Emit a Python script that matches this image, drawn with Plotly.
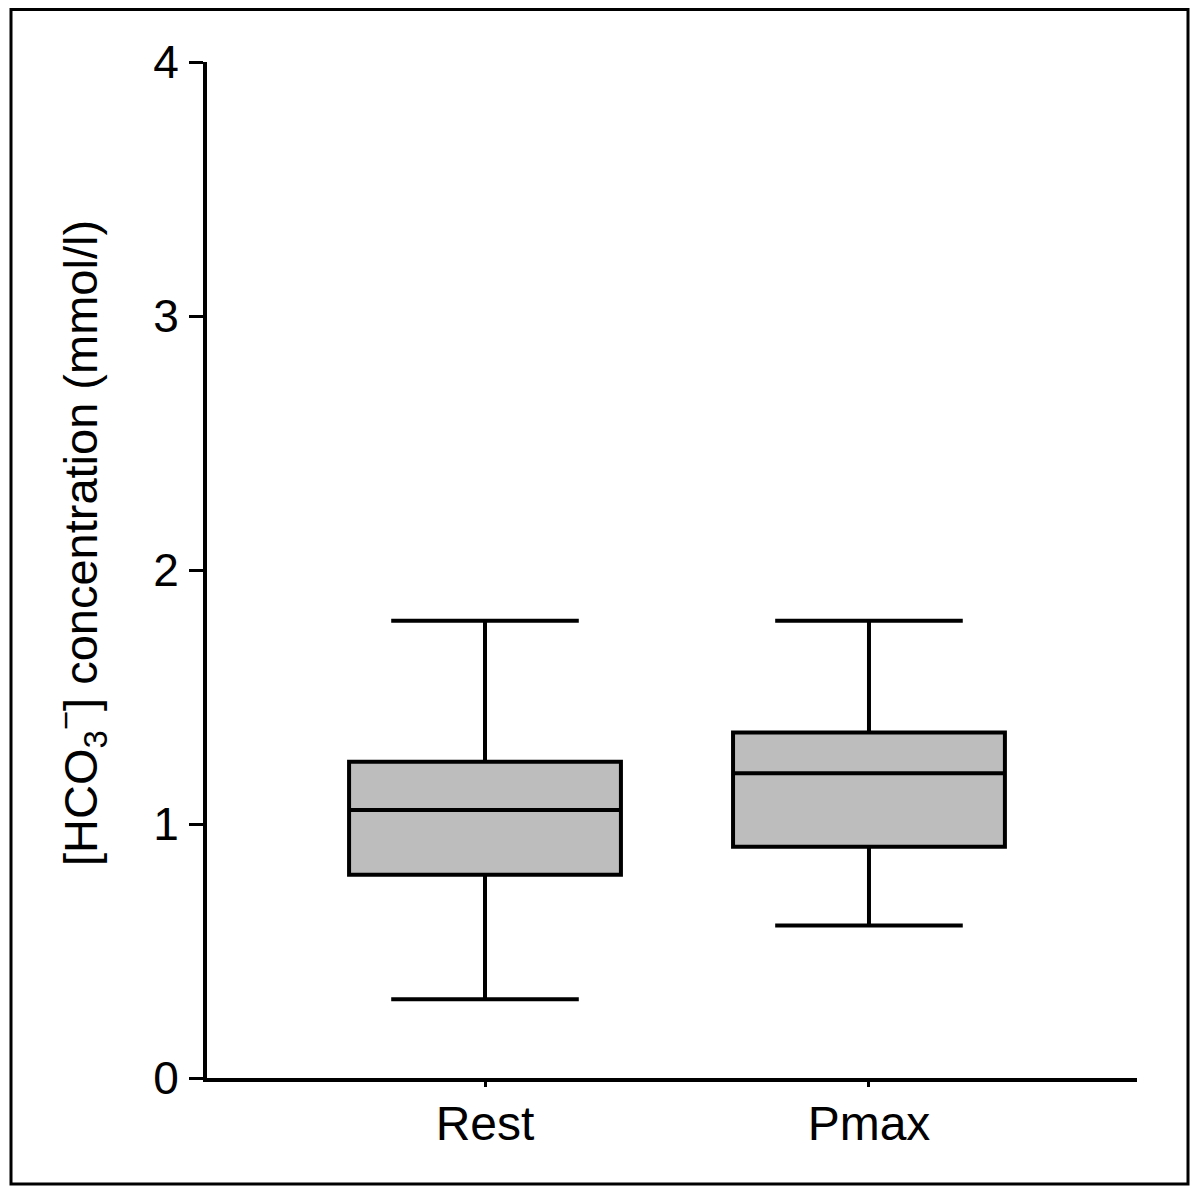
import plotly.graph_objects as go

categories = ["Rest", "Pmax"]
lower_whisker = [0.31, 0.60]
q1_values = [0.80, 0.91]
median_values = [1.055, 1.20]
q3_values = [1.245, 1.36]
upper_whisker = [1.80, 1.80]
y_tick_values = [0, 1, 2, 3, 4]
y_tick_labels = ["0", "1", "2", "3", "4"]
y_title = "[HCO<sub>3</sub><sup>−</sup>] concentration (mmol/l)"

# page body margin offsets the figure by 8px; work in page coordinates
OFF = 8
W, H = 1200 - OFF, 1190 - OFF
L, R, T, B = 207 - OFF, 1137 - OFF, 62 - OFF, 1078 - OFF
pw, ph = R - L, B - T

def px_x(p):
    return (p - OFF - L) / pw

def px_y(p):
    return (B - (p - OFF)) / ph

fig = go.Figure()
fig.add_trace(go.Box(
    x=categories,
    q1=q1_values,
    median=median_values,
    q3=q3_values,
    lowerfence=lower_whisker,
    upperfence=upper_whisker,
    fillcolor="#bdbdbd",
    line=dict(color="black", width=4),
    whiskerwidth=0.69,
    width=0.708,
    boxpoints=False,
    showlegend=False,
    hoverinfo="skip",
))

font_family = "Liberation Sans, Arial, sans-serif"

fig.update_layout(
    width=W, height=H,
    margin=dict(l=L, r=W - R, t=T, b=H - B, pad=0),
    paper_bgcolor="white",
    plot_bgcolor="white",
    font=dict(family=font_family, color="black", size=46),
    xaxis=dict(
        type="category",
        range=[-0.724, 1.698],
        showline=True, linecolor="black", linewidth=4,
        ticks="outside", ticklen=5, tickwidth=3, tickcolor="black",
        showgrid=False, zeroline=False,
        tickfont=dict(size=48, family=font_family, color="black"),
        ticklabelstandoff=-5,
    ),
    yaxis=dict(
        range=[0, 4],
        tickvals=y_tick_values,
        ticktext=y_tick_labels,
        showline=True, linecolor="black", linewidth=4,
        ticks="outside", ticklen=14, tickwidth=3, tickcolor="black",
        showgrid=False, zeroline=False,
        tickfont=dict(size=46, family=font_family, color="black"),
        ticklabelstandoff=1,
    ),
    annotations=[dict(
        text=y_title,
        x=px_x(80), y=px_y(543),
        xref="paper", yref="paper",
        xanchor="center", yanchor="middle",
        textangle=-90,
        showarrow=False,
        font=dict(size=47, family=font_family, color="black"),
    )],
    shapes=[dict(
        type="rect", xref="paper", yref="paper",
        x0=px_x(11), x1=px_x(1188), y0=px_y(1184), y1=px_y(9.5),
        line=dict(color="black", width=3),
        fillcolor="rgba(0,0,0,0)",
        layer="above",
    )],
)

fig.write_html("out.html")
